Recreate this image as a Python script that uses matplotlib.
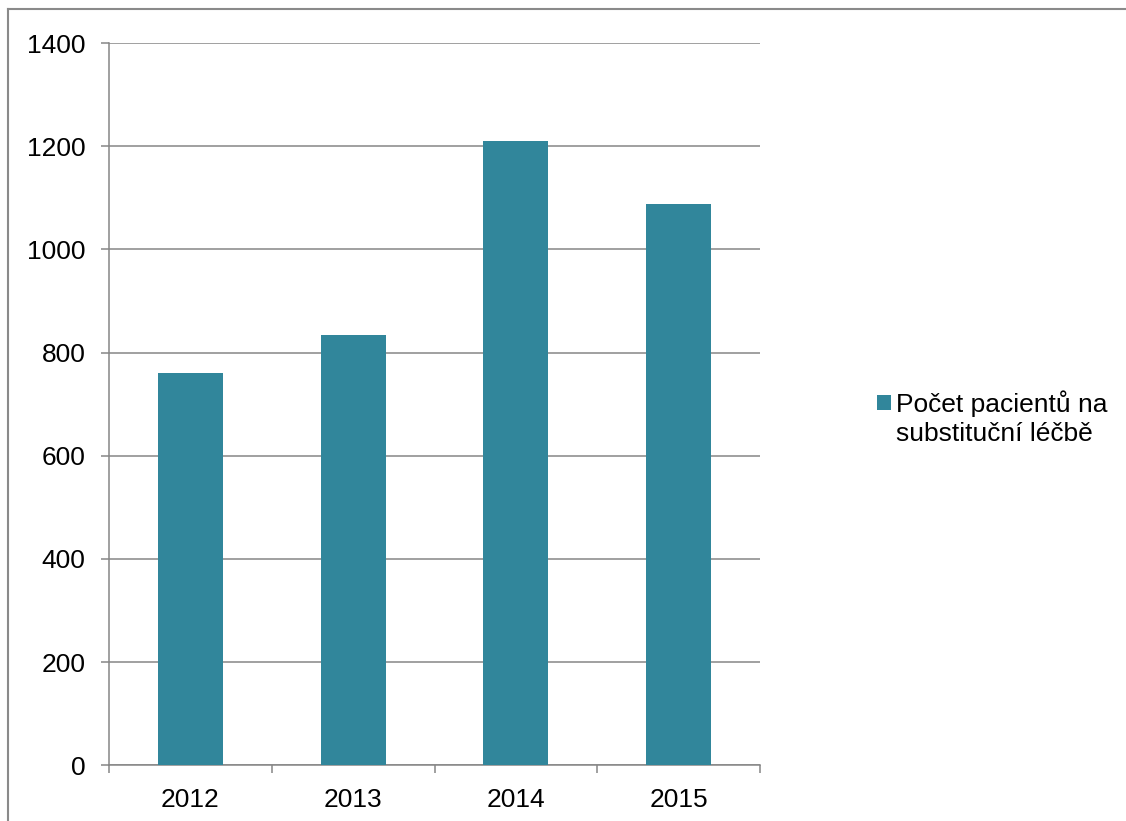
import matplotlib.pyplot as plt
from matplotlib.lines import Line2D
import numpy as np

plt.rcParams['font.family'] = ['Liberation Sans', 'DejaVu Sans']

years = ["2012", "2013", "2014", "2015"]
patients = [760, 835, 1210, 1088]
series_label = "Počet pacientů na\nsubstituční léčbě"

bar_color = "#31869B"
line_gray = "#868686"
font_size = 19

fig = plt.figure(figsize=(11.26, 8.21), dpi=100)
ax = fig.add_axes([0.0968, 0.0678, 0.5782, 0.8798])

x = np.arange(len(years))
ax.bar(x, patients, width=0.4, color=bar_color, zorder=3, label=series_label)

ax.set_xlim(-0.5, len(years) - 0.5)
ax.set_ylim(0, 1400)
ax.set_yticks(np.arange(0, 1401, 200))
ax.yaxis.grid(True, color=line_gray, linewidth=1.1)
ax.set_axisbelow(True)

# category labels in the middle, tick marks on the boundaries
ax.set_xticks(x)
ax.set_xticklabels(years)
ax.set_xticks(np.arange(-0.5, len(years), 1.0), minor=True)
ax.tick_params(axis="x", which="major", length=0, pad=16, labelsize=font_size)
ax.tick_params(axis="x", which="minor", length=6, width=1.1, color=line_gray, direction="out")
ax.tick_params(axis="y", length=6, width=1.1, color=line_gray, pad=11, labelsize=font_size)

for side in ("top", "right"):
    ax.spines[side].set_visible(False)
for side in ("left", "bottom"):
    ax.spines[side].set_color(line_gray)
    ax.spines[side].set_linewidth(1.1)

leg = fig.legend(loc="upper left", bbox_to_anchor=(0.779, 0.524), frameon=False,
                 fontsize=font_size, handlelength=0.53, handleheight=0.53,
                 handletextpad=0.2, borderaxespad=0, borderpad=0)
leg.get_texts()[0].set_linespacing(1.25)
# put the square next to the first line of the label
hnd = leg.legend_handles[0]
hnd.set_y(hnd.get_y() + 0.62 * font_size)

# outer frame
fig.add_artist(Line2D([0.0075, 0.0075], [0, 0.9885], transform=fig.transFigure,
                      color="#8a8a8a", linewidth=1.5))
fig.add_artist(Line2D([0.0075, 1.0], [0.9885, 0.9885], transform=fig.transFigure,
                      color="#8a8a8a", linewidth=1.5))

fig.savefig("out.png", dpi=100)
